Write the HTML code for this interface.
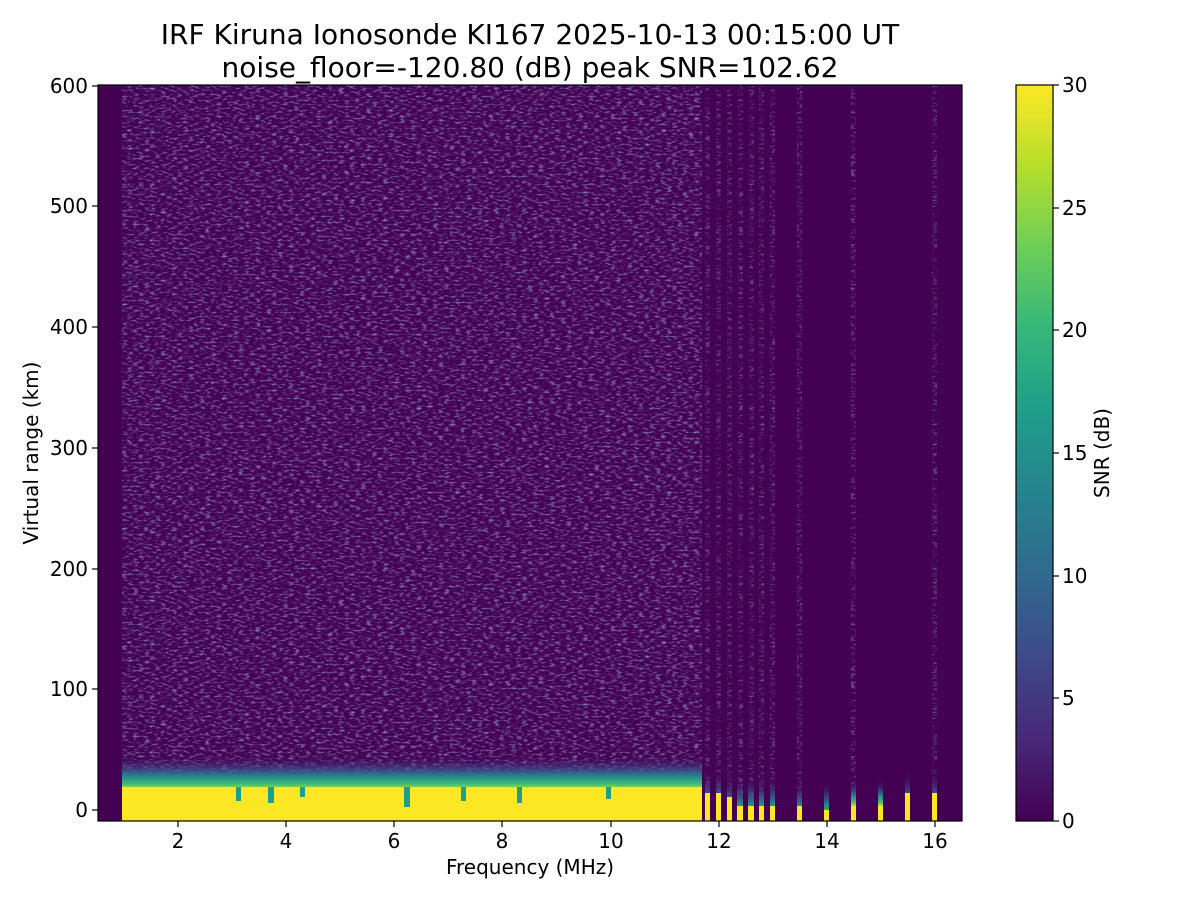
<!DOCTYPE html>
<html><head><meta charset="utf-8"><style>
body{margin:0;background:#fff;}
svg text{font-family:"DejaVu Sans","Liberation Sans",sans-serif;fill:#000;}
</style></head><body>
<svg width="1200" height="900" viewBox="0 0 1200 900" xmlns="http://www.w3.org/2000/svg">
<defs>
<linearGradient id="vir" x1="0" y1="1" x2="0" y2="0">
<stop offset="0" stop-color="#440154"/><stop offset="0.11" stop-color="#482878"/>
<stop offset="0.22" stop-color="#3e4989"/><stop offset="0.33" stop-color="#31688e"/>
<stop offset="0.44" stop-color="#26828e"/><stop offset="0.56" stop-color="#1f9e89"/>
<stop offset="0.67" stop-color="#35b779"/><stop offset="0.78" stop-color="#6ece58"/>
<stop offset="0.89" stop-color="#b5de2b"/><stop offset="1" stop-color="#fde725"/>
</linearGradient>
<linearGradient id="band" x1="0" y1="0" x2="0" y2="1">
<stop offset="0" stop-color="#440154" stop-opacity="0"/>
<stop offset="0.35" stop-color="#3e4989" stop-opacity="0.6"/>
<stop offset="0.6" stop-color="#26828e"/>
<stop offset="0.8" stop-color="#35b779"/>
<stop offset="1" stop-color="#b5de2b"/>
</linearGradient>
<filter id="noise" x="0" y="0" width="100%" height="100%">
<feTurbulence type="fractalNoise" baseFrequency="0.18 0.5" numOctaves="2" seed="3"/>
<feColorMatrix type="matrix" values="0 0 0 0 0.26  0 0 0 0 0.24  0 0 0 0 0.52  0 0 0 2.5 -1.2"/>
</filter>
<mask id="cols">
<g fill="#fff">
<rect x="705" y="85" width="5" height="736"/><rect x="716" y="85" width="5" height="736"/>
<rect x="727" y="85" width="5" height="736"/><rect x="738" y="85" width="5" height="736"/>
<rect x="749" y="85" width="5" height="736"/><rect x="759" y="85" width="5" height="736"/>
<rect x="770" y="85" width="5" height="736"/><rect x="797" y="85" width="5" height="736"/>
<rect x="851" y="85" width="5" height="736"/><rect x="932" y="85" width="5" height="736"/>
</g>
</mask>
</defs>
<text x="530" y="44" font-size="28" text-anchor="middle">IRF Kiruna Ionosonde KI167 2025-10-13 00:15:00  UT</text>
<text x="530" y="77" font-size="28" text-anchor="middle">noise_floor=-120.80 (dB) peak SNR=102.62</text>
<rect x="98" y="85" width="864" height="736" fill="#440154"/>
<rect x="122" y="85" width="580" height="736" filter="url(#noise)"/>
<g mask="url(#cols)"><rect x="700" y="85" width="240" height="736" filter="url(#noise)" opacity="0.7"/></g>
<rect x="122" y="755" width="580" height="35" fill="url(#band)"/>
<rect x="122" y="787" width="580" height="34" fill="#fde725"/>
<g fill="#1f9e89">
<rect x="236" y="787" width="5" height="14"/><rect x="268" y="787" width="6" height="16"/>
<rect x="300" y="787" width="5" height="10"/><rect x="404" y="787" width="6" height="20"/>
<rect x="461" y="787" width="5" height="14"/><rect x="517" y="787" width="5" height="16"/>
<rect x="606" y="787" width="5" height="12"/>
</g>
<g>
<rect x="705" y="770" width="5" height="51" fill="url(#band)"/><rect x="705" y="793" width="5" height="28" fill="#fde725"/>
<rect x="716" y="770" width="5" height="51" fill="url(#band)"/><rect x="716" y="793" width="5" height="28" fill="#fde725"/>
<rect x="727" y="775" width="5" height="46" fill="url(#band)"/><rect x="727" y="797" width="5" height="24" fill="#fde725"/>
<rect x="737" y="775" width="6" height="46" fill="url(#band)"/><rect x="737" y="806" width="6" height="15" fill="#fde725"/>
<rect x="748" y="775" width="6" height="46" fill="url(#band)"/><rect x="748" y="806" width="6" height="15" fill="#fde725"/>
<rect x="759" y="775" width="5" height="46" fill="url(#band)"/><rect x="759" y="806" width="5" height="15" fill="#fde725"/>
<rect x="770" y="775" width="5" height="46" fill="url(#band)"/><rect x="770" y="806" width="5" height="15" fill="#fde725"/>
<rect x="797" y="780" width="5" height="41" fill="url(#band)"/><rect x="797" y="806" width="5" height="15" fill="#fde725"/>
<rect x="824" y="780" width="5" height="41" fill="url(#band)"/><rect x="824" y="810" width="5" height="11" fill="#fde725"/>
<rect x="851" y="780" width="5" height="26" fill="url(#band)"/><rect x="851" y="806" width="5" height="15" fill="#fde725"/>
<rect x="878" y="780" width="5" height="26" fill="url(#band)"/><rect x="878" y="806" width="5" height="15" fill="#fde725"/>
<rect x="905" y="770" width="5" height="51" fill="url(#band)"/><rect x="905" y="793" width="5" height="28" fill="#fde725"/>
<rect x="932" y="770" width="5" height="51" fill="url(#band)"/><rect x="932" y="793" width="5" height="28" fill="#fde725"/>
</g>
<rect x="98" y="85" width="864" height="736" fill="none" stroke="#000" stroke-width="1.2"/>
<g stroke="#000" stroke-width="1.2">
<line x1="178" y1="821" x2="178" y2="827"/><line x1="286" y1="821" x2="286" y2="827"/>
<line x1="394" y1="821" x2="394" y2="827"/><line x1="502" y1="821" x2="502" y2="827"/>
<line x1="611" y1="821" x2="611" y2="827"/><line x1="719" y1="821" x2="719" y2="827"/>
<line x1="827" y1="821" x2="827" y2="827"/><line x1="935" y1="821" x2="935" y2="827"/>
<line x1="92" y1="810" x2="98" y2="810"/><line x1="92" y1="689" x2="98" y2="689"/>
<line x1="92" y1="569" x2="98" y2="569"/><line x1="92" y1="448" x2="98" y2="448"/>
<line x1="92" y1="327" x2="98" y2="327"/><line x1="92" y1="206" x2="98" y2="206"/>
<line x1="92" y1="86" x2="98" y2="86"/>
</g>
<g font-size="20" text-anchor="middle">
<text x="178" y="848">2</text><text x="286" y="848">4</text><text x="394" y="848">6</text>
<text x="502" y="848">8</text><text x="611" y="848">10</text><text x="719" y="848">12</text>
<text x="827" y="848">14</text><text x="935" y="848">16</text>
</g>
<g font-size="20" text-anchor="end">
<text x="88" y="817">0</text><text x="88" y="696">100</text><text x="88" y="576">200</text>
<text x="88" y="455">300</text><text x="88" y="334">400</text><text x="88" y="213">500</text>
<text x="88" y="93">600</text>
</g>
<text x="530" y="874" font-size="20" text-anchor="middle">Frequency (MHz)</text>
<text transform="translate(38,453) rotate(-90)" font-size="20" text-anchor="middle">Virtual range (km)</text>
<rect x="1016" y="85" width="37" height="736" fill="url(#vir)" stroke="#000" stroke-width="1.2"/>
<g stroke="#000" stroke-width="1.2">
<line x1="1053" y1="821" x2="1059" y2="821"/><line x1="1053" y1="698" x2="1059" y2="698"/>
<line x1="1053" y1="576" x2="1059" y2="576"/><line x1="1053" y1="453" x2="1059" y2="453"/>
<line x1="1053" y1="330" x2="1059" y2="330"/><line x1="1053" y1="208" x2="1059" y2="208"/>
<line x1="1053" y1="85" x2="1059" y2="85"/>
</g>
<g font-size="20">
<text x="1062" y="828">0</text><text x="1062" y="705">5</text><text x="1062" y="583">10</text>
<text x="1062" y="460">15</text><text x="1062" y="337">20</text><text x="1062" y="215">25</text>
<text x="1062" y="92">30</text>
</g>
<text transform="translate(1109,453) rotate(-90)" font-size="20" text-anchor="middle">SNR (dB)</text>
</svg>
</body></html>
